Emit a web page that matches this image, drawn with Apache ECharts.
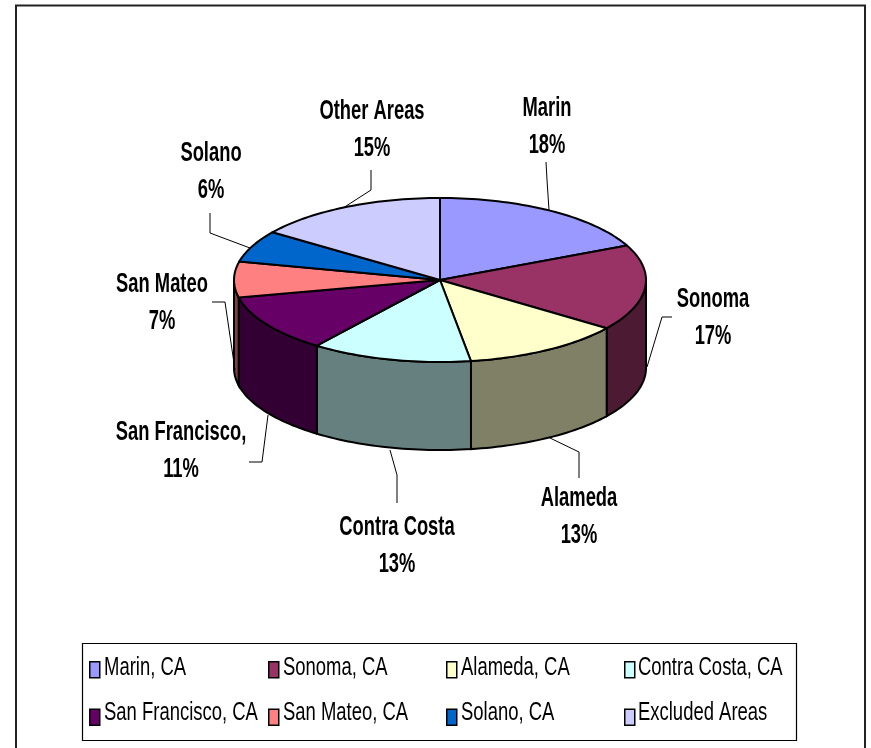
<!DOCTYPE html>
<html><head><meta charset="utf-8">
<style>html,body{margin:0;padding:0;background:#fff}#c{width:871px;height:748px}</style>
<script src="https://cdn.jsdelivr.net/npm/echarts@6/dist/echarts.min.js"></script>
</head><body><div id="c"></div>
<script>
const legendNames = ['Marin, CA','Sonoma, CA','Alameda, CA','Contra Costa, CA','San Francisco, CA','San Mateo, CA','Solano, CA','Excluded Areas'];
const labelNames = ['Marin','Sonoma','Alameda','Contra Costa','San Francisco,','San Mateo','Solano','Other Areas'];
const shares = [18.1,16.9,12.6,12.6,11.4,7.0,6.3,15.1];
const topColors = ['#9999FF','#993366','#FFFFCC','#CCFFFF','#660066','#FF8080','#0066CC','#CCCCFF'];
const sideColors = ['#4D4D80','#4D1A33','#808066','#668080','#330033','#804040','#003366','#666680'];

// presentation layout of the pie and its hand-placed labels
const PIE = {cx:440, cy:280, rx:206, ry:82, depth:88};
const labelAt = [[547,127],[713,318],[579,517],[397,546],[181,451],[162,303],[211,172],[372,130]];
const leaders = [
 [[546,162],[547,180],[549,210]],
 [[672,317],[662,317],[647,367]],
 [[550,438],[579,452],[579,478]],
 [[390,450],[397,475],[397,503]],
 [[268,415],[262,462],[249,462]],
 [[212,302],[225,302],[235,370]],
 [[210,213],[210,233],[250,248]],
 [[371,170],[371,190],[343,208]]
];
const FONT='"Liberation Sans",Arial,sans-serif';
const LABEL_SQUEEZE=0.68, LEGEND_SQUEEZE=0.71;

const total = shares.reduce((a,b)=>a+b,0);
let run = 0;
const spans = shares.map(v=>{const s=run; run+=v; return [s/total,run/total,v];});

function rim(t,dy){
  const a=t*2*Math.PI;
  return [PIE.cx+PIE.rx*Math.sin(a), PIE.cy-PIE.ry*Math.cos(a)+dy];
}
function arc(a0,a1,dy){
  const n=Math.max(2,Math.ceil((a1-a0)*240)), out=[];
  for(let i=0;i<=n;i++) out.push(rim(a0+(a1-a0)*i/n,dy));
  return out;
}
function renderSlice(idx){
  return function(params,api){
    const s=api.value(0), e=api.value(1), pct=Math.round(api.value(2));
    const kids=[];
    const w0=Math.max(s,0.25), w1=Math.min(e,0.75);
    if(w1>w0){
      const up=arc(w0,w1,0), down=arc(w0,w1,PIE.depth).reverse();
      kids.push({type:'polygon',shape:{points:up.concat(down)},
        style:{fill:sideColors[idx],stroke:'#000',lineWidth:2},z2:1});
    }
    kids.push({type:'polygon',shape:{points:[[PIE.cx,PIE.cy]].concat(arc(s,e,0))},
      style:{fill:topColors[idx],stroke:'#000',lineWidth:2,lineJoin:'round'},z2:2});
    kids.push({type:'polyline',shape:{points:leaders[idx]},
      style:{fill:null,stroke:'#000',lineWidth:1},z2:3});
    kids.push({type:'text',x:labelAt[idx][0],y:labelAt[idx][1],z2:4,scaleX:LABEL_SQUEEZE,
      style:{text:labelNames[idx]+'\n'+pct+'%',fill:'#000',align:'center',verticalAlign:'middle',
        font:'bold 27px '+FONT,lineHeight:37}});
    return {type:'group',children:kids};
  };
}
const series = legendNames.map((name,i)=>({
  type:'custom',name,coordinateSystem:'none',silent:true,animation:false,clip:false,
  itemStyle:{color:topColors[i]},
  encode:{value:[0,1,2]},
  data:[spans[i]],
  renderItem:renderSlice(i)
}));
const colX=[89,268,446,624];
const textX=[104,283,461,638];
const rowY=[668,713];
const legends=colX.map((x,c)=>({
  left:x,top:661,orient:'vertical',itemGap:30,itemWidth:10,itemHeight:16,icon:'rect',
  padding:0,selectedMode:false,formatter:()=>' ',
  data:[legendNames[c],legendNames[c+4]],
  textStyle:{fontSize:10,padding:0},
  itemStyle:{borderColor:'#000',borderWidth:1.5}
}));
const legendText=legendNames.map((name,i)=>({
  type:'text',x:textX[i%4],y:rowY[i<4?0:1],scaleX:LEGEND_SQUEEZE,z:5,
  style:{text:name,fill:'#000',font:'26px '+FONT,align:'left',verticalAlign:'middle'}
}));
const chart=echarts.init(document.getElementById('c'),null,{renderer:'canvas'});
chart.setOption({
  animation:false,backgroundColor:'#fff',
  graphic:[
    {type:'rect',shape:{x:16,y:5.5,width:849,height:745},style:{fill:null,stroke:'#222',lineWidth:2},z:-1},
    {type:'rect',shape:{x:82.5,y:643.5,width:714,height:97},style:{fill:'#fff',stroke:'#000',lineWidth:1.2},z:-1}
  ].concat(legendText),
  legend:legends,series
});
</script></body></html>
